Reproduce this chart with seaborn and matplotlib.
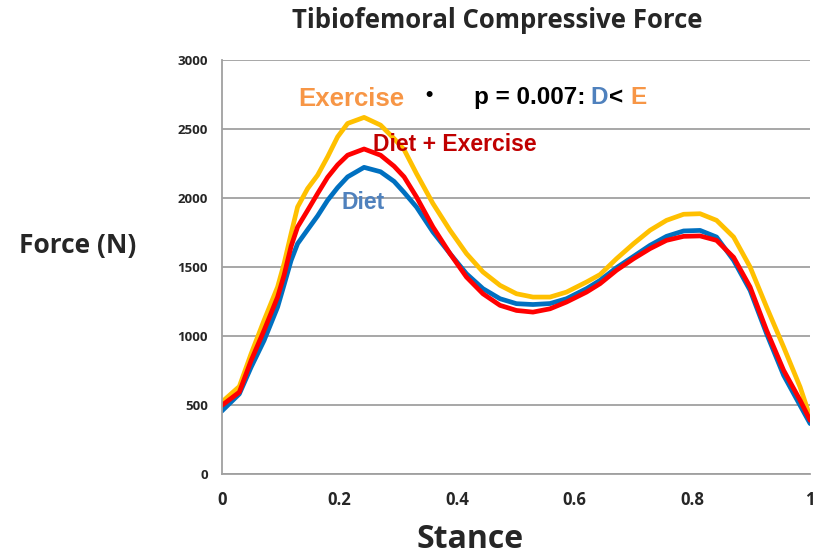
import numpy as np
import pandas as pd
import matplotlib
matplotlib.use("Agg")
import matplotlib.pyplot as plt
import seaborn as sns

# valores (Força em N ao longo do apoio)
stance = [0, 0.03, 0.05, 0.072, 0.095, 0.106, 0.118, 0.129, 0.146, 0.163, 0.18, 0.197,
          0.214, 0.242, 0.27, 0.293, 0.31, 0.331, 0.359, 0.388, 0.416, 0.444, 0.473,
          0.501, 0.529, 0.558, 0.586, 0.620, 0.643, 0.671, 0.70, 0.728, 0.756, 0.785,
          0.813, 0.841, 0.870, 0.898, 0.926, 0.955, 0.983, 1.0]
exercise = [520, 634, 871, 1113, 1355, 1524, 1742, 1935, 2068, 2165, 2298, 2443,
            2540, 2584, 2528, 2430, 2350, 2177, 1960, 1766, 1597, 1464, 1367,
            1306, 1282, 1282, 1318, 1391, 1445, 1560, 1669, 1766, 1838, 1882,
            1886, 1838, 1717, 1500, 1210, 920, 630, 413]
diet_exercise = [496, 593, 822, 1040, 1282, 1440, 1650, 1790, 1910, 2032, 2150, 2240,
                 2310, 2355, 2310, 2230, 2153, 2008, 1790, 1597, 1427, 1306, 1222,
                 1185, 1173, 1197, 1246, 1318, 1379, 1476, 1560, 1633, 1693, 1722,
                 1725, 1693, 1570, 1355, 1041, 751, 534, 389]
diet = [455, 580, 774, 967, 1209, 1370, 1548, 1669, 1770, 1870, 1983, 2075,
        2153, 2222, 2190, 2120, 2040, 1935, 1754, 1597, 1451, 1343, 1270,
        1234, 1228, 1235, 1270, 1343, 1403, 1495, 1577, 1657, 1722, 1761,
        1765, 1717, 1548, 1331, 1017, 715, 497, 365]

groups = ["Exercise", "Diet", "Diet + Exercise"]
cores = {"Exercise": "#FFC000", "Diet": "#0070C0", "Diet + Exercise": "#FF0000"}

df = pd.DataFrame({
    "Stance": stance * 3,
    "Force": exercise + diet + diet_exercise,
    "Group": ["Exercise"] * len(stance) + ["Diet"] * len(stance) + ["Diet + Exercise"] * len(stance),
})

sns.set_theme(style="white")
plt.rcParams["font.family"] = ["Liberation Sans", "DejaVu Sans"]

fig = plt.figure(figsize=(8.15, 5.6), dpi=100)
ax = fig.add_axes([0.272, 0.1536, 0.722, 0.7393])

sns.lineplot(data=df, x="Stance", y="Force", hue="Group", palette=cores,
             hue_order=groups, linewidth=3.4, legend=False, ax=ax,
             solid_joinstyle="round", solid_capstyle="round")

ax.set_xlim(0, 1)
ax.set_ylim(0, 3000)
ax.set_xticks([0, 0.2, 0.4, 0.6, 0.8, 1.0])
ax.set_xticklabels(["0", "0.2", "0.4", "0.6", "0.8", "1"])
ax.set_yticks(range(0, 3001, 500))
ax.yaxis.grid(True, color="#A0A0A0", linewidth=1.3)
ax.set_axisbelow(True)
for s in ["top", "right"]:
    ax.spines[s].set_visible(False)
for s in ["left", "bottom"]:
    ax.spines[s].set_color("#A0A0A0")
    ax.spines[s].set_linewidth(1.3)
ax.tick_params(axis="x", direction="out", length=6, color="#A0A0A0", width=1.3, pad=6)
ax.tick_params(axis="y", direction="out", length=4, color="#A0A0A0", width=1.3, pad=6)
for lbl in ax.get_xticklabels():
    lbl.set_fontfamily("Open Sans")
    lbl.set_fontweight("bold")
    lbl.set_fontsize(12)
for lbl in ax.get_yticklabels():
    lbl.set_fontfamily("Open Sans")
    lbl.set_fontweight("bold")
    lbl.set_fontsize(9.5)

ax.set_xlabel("")
ax.set_ylabel("")
fig.text(0.577, 0.036, "Stance", fontsize=23, fontweight="bold", family="Open Sans",
         ha="center", va="center")
fig.text(0.095, 0.5625, "Force (N)", fontsize=19, fontweight="bold", family="Open Sans",
         ha="center", va="center")
fig.text(0.61, 0.964, "Tibiofemoral Compressive Force", fontsize=18.5, fontweight="bold",
         family="Open Sans", ha="center", va="center")

# anotações coloridas
ax.text(0.221, 2717, "Exercise", color="#F79646", fontsize=18.5, fontweight="bold",
        ha="center", va="center")
ax.text(0.352, 2745, "•", color="black", fontsize=15, fontweight="bold", ha="center", va="center")
ax.text(0.618, 2725, "p = 0.007:", color="black", fontsize=17.5, fontweight="bold",
        ha="right", va="center")
ax.text(0.627, 2725, "D", color="#4F81BD", fontsize=17.5, fontweight="bold", ha="left", va="center")
ax.text(0.658, 2725, "<", color="black", fontsize=17.5, fontweight="bold", ha="left", va="center")
ax.text(0.695, 2725, "E", color="#F79646", fontsize=17.5, fontweight="bold", ha="left", va="center")
ax.text(0.257, 2391, "Diet + Exercise", color="#C00000", fontsize=16.5, fontweight="bold",
        ha="left", va="center")
ax.text(0.204, 1964, "Diet", color="#4F81BD", fontsize=16.5, fontweight="bold",
        ha="left", va="center")

fig.savefig("out.png", dpi=100)
